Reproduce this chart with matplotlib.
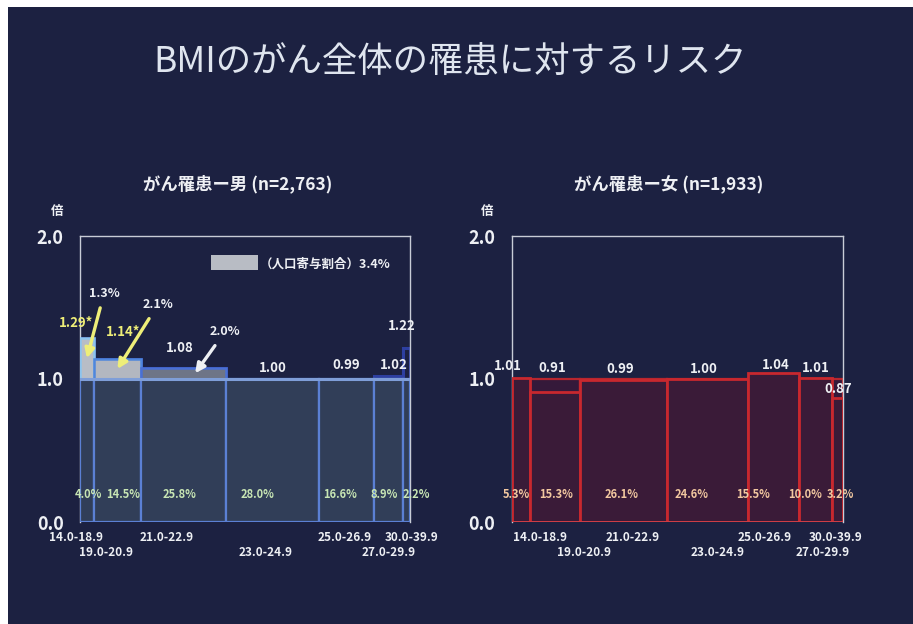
import matplotlib
matplotlib.use("Agg")
import matplotlib.pyplot as plt
from matplotlib.patches import Rectangle
import numpy as np

plt.rcParams['font.family'] = ['Noto Sans CJK JP', 'DejaVu Sans']

# BMI categories
bmi_labels = ['14.0-18.9', '19.0-20.9', '21.0-22.9', '23.0-24.9',
              '25.0-26.9', '27.0-29.9', '30.0-39.9']

# men: share of subjects (%), relative risk, attributable share (%)
male_pct = [4.0, 14.5, 25.8, 28.0, 16.6, 8.9, 2.2]
male_rr = [1.29, 1.14, 1.08, 1.00, 0.99, 1.02, 1.22]
male_rr_text = ['1.29*', '1.14*', '1.08', '1.00', '0.99', '1.02', '1.22']
male_af = [1.3, 2.1, 2.0]
male_af_total = 3.4

# women
female_pct = [5.3, 15.3, 26.1, 24.6, 15.5, 10.0, 3.2]
female_rr = [1.01, 0.91, 0.99, 1.00, 1.04, 1.01, 0.87]
female_rr_text = ['1.01', '0.91', '0.99', '1.00', '1.04', '1.01', '0.87']

BG = '#1c2141'
FRAME = '#c8ccd6'
WHITE = '#eef0f4'
YELLOW = '#eeee78'


def setup_axes(ax):
    ax.set_facecolor(BG)
    ax.set_xlim(0, 100)
    ax.set_ylim(0, 2.0)
    for side in ('left', 'top', 'right'):
        ax.spines[side].set_color(FRAME)
        ax.spines[side].set_linewidth(1)
    ax.spines['bottom'].set_visible(False)
    ax.set_xticks([])
    ax.set_yticks([0, 1, 2])
    ax.set_yticklabels(['0.0', '1.0', '2.0'], color=WHITE, fontsize=13,
                       fontweight='bold')
    ax.tick_params(axis='y', length=0, pad=12)


def bar_labels(ax, lefts, pct, rr, rr_text, rr_colors, rr_nudge,
               pct_color, pct_nudge, tick_nudge):
    centers = lefts + np.array(pct) / 2
    for i, c in enumerate(centers):
        dx, dy = rr_nudge[i]
        ax.text(c + dx, rr[i] + dy, rr_text[i], ha='center', va='center',
                color=rr_colors[i], fontsize=9.5, fontweight='bold')
        ax.text(c + pct_nudge[i], 0.19, f'{pct[i]:.1f}%', ha='center',
                va='center', color=pct_color, fontsize=8, fontweight='bold')
        row_y = -0.11 if i % 2 == 0 else -0.21
        ax.text(c + tick_nudge[i], row_y, bmi_labels[i], ha='center',
                va='center', color=WHITE, fontsize=8.5, fontweight='bold',
                clip_on=False)


fig = plt.figure(figsize=(9.13, 6.24), dpi=100)
fig.patch.set_facecolor(BG)
# white strips along the top and left edges
fig.add_artist(Rectangle((0, 0), 8 / 913, 1, transform=fig.transFigure,
                         facecolor='white', edgecolor='none'))
fig.add_artist(Rectangle((0, 1 - 7 / 624), 1, 7 / 624, transform=fig.transFigure,
                         facecolor='white', edgecolor='none'))

fig.text(0.493, 0.901, 'BMIのがん全体の罹患に対するリスク', ha='center',
         va='center', color='#dfe5ef', fontsize=25.5)

# ---- men ----
axm = fig.add_axes([80.3 / 913, 102 / 624, 330 / 913, 286 / 624])
setup_axes(axm)
m_lefts = np.concatenate([[0], np.cumsum(male_pct)[:-1]])

axm.bar(m_lefts, male_rr, width=male_pct, align='edge', facecolor='none',
        edgecolor='#2d3fa0', linewidth=2.2, zorder=2)
axm.bar(m_lefts, [1.0] * len(male_pct), width=male_pct, align='edge',
        facecolor='#313e58', edgecolor='#5b80d4', linewidth=1.6, zorder=3)
axm.plot([0, 100], [1.0, 1.0], color='#7f9ed8', lw=2.2, zorder=4)

excess_face = ['#b8bdc6', '#b3b7c0', '#6e7587']
excess_edge = ['#8cc4ee', '#4f86dc', '#4a70d4']
for i, af in enumerate(male_af):
    axm.bar(m_lefts[i], male_rr[i] - 1.0, bottom=1.0, width=male_pct[i],
            align='edge', facecolor=excess_face[i], edgecolor=excess_edge[i],
            linewidth=1.8, zorder=3)

bar_labels(axm, m_lefts, male_pct, male_rr, male_rr_text,
           [YELLOW, YELLOW, WHITE, WHITE, WHITE, WHITE, WHITE],
           [(-3.2, 0.10), (1.8, 0.19), (-1.2, 0.14), (0, 0.08),
            (0, 0.11), (1.5, 0.08), (-1.5, 0.15)],
           '#c8e6b4', [0.4, 1.8, -1.2, -4.7, -1.8, -1.2, 2.8],
           [-3.2, -3.4, -5.2, -2.3, -0.6, 0, 1.5])

# attributable share call-outs
af_text_pos = [(7.2, 1.60), (23.5, 1.52), (43.8, 1.33)]
af_colors = [YELLOW, YELLOW, WHITE]
tip_dx = [0, 0, 3.4]
for i, af in enumerate(male_af):
    tip = (m_lefts[i] + male_pct[i] / 2 + tip_dx[i], (1.0 + male_rr[i]) / 2)
    axm.annotate(f'{af}%', xy=tip, xytext=af_text_pos[i], ha='center',
                 va='center', color=WHITE, fontsize=9, fontweight='bold',
                 arrowprops=dict(arrowstyle='-|>', color=af_colors[i], lw=2.4,
                                 mutation_scale=14, shrinkA=4, shrinkB=0),
                 zorder=6)

# legend swatch for the attributable share
axm.add_patch(Rectangle((39.5, 1.76), 14.3, 0.105, facecolor='#b8bcc4',
                        edgecolor='none', zorder=5))
axm.text(54.5, 1.805, f'（人口寄与割合）{male_af_total}%', ha='left',
         va='center', color=WHITE, fontsize=9, fontweight='bold')

fig.text(238 / 913, 1 - 184 / 624, 'がん罹患ー男 (n=2,763)', ha='center',
         va='center', color=WHITE, fontsize=12.5, fontweight='bold')
fig.text(57 / 913, 1 - 211 / 624, '倍', ha='center', va='center',
         color=WHITE, fontsize=9, fontweight='bold')

# ---- women ----
axf = fig.add_axes([512 / 913, 102 / 624, 331 / 913, 286 / 624])
setup_axes(axf)
f_lefts = np.concatenate([[0], np.cumsum(female_pct)[:-1]])

axf.bar(f_lefts, [1.0] * len(female_pct), width=female_pct, align='edge',
        facecolor='#35193a', edgecolor='#b8262e', linewidth=1.6, zorder=2)
axf.bar(f_lefts, female_rr, width=female_pct, align='edge',
        facecolor='#3a1b38', edgecolor='#c8282e', linewidth=2.0, zorder=3)
axf.plot([0, 100], [0, 0], color='#d04048', lw=2.0, zorder=4)

bar_labels(axf, f_lefts, female_pct, female_rr, female_rr_text,
           [WHITE] * 7,
           [(-3.9, 0.08), (-0.9, 0.17), (-0.9, 0.08), (-0.9, 0.07),
            (0.7, 0.06), (0, 0.07), (0, 0.06)],
           '#f2c8a0', [-1.2, 0.5, -0.4, -4.6, -6.3, -3.3, 0.7],
           [5.8, 8.8, 2.9, 3.0, -2.6, 2.1, -0.5])

fig.text(669 / 913, 1 - 184 / 624, 'がん罹患ー女 (n=1,933)', ha='center',
         va='center', color=WHITE, fontsize=12.5, fontweight='bold')
fig.text(487 / 913, 1 - 211 / 624, '倍', ha='center', va='center',
         color=WHITE, fontsize=9, fontweight='bold')

fig.savefig('out.png', dpi=100, facecolor=BG)
